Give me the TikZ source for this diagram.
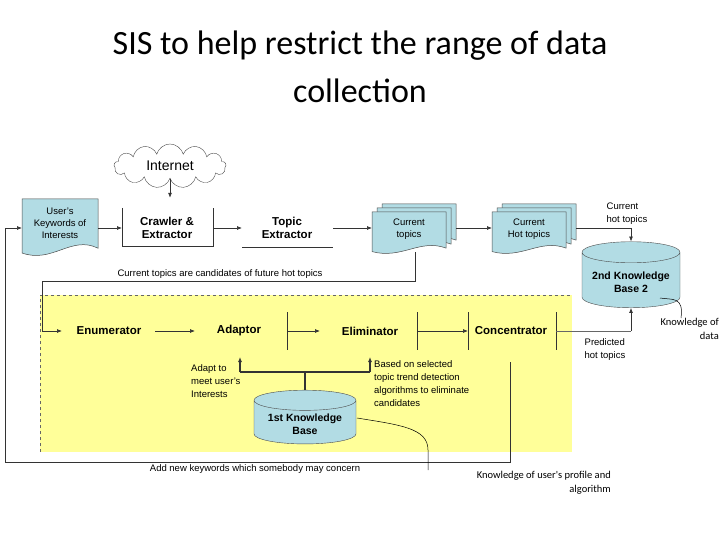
\documentclass[tikz,border=0pt]{standalone}
\usepackage{fontspec}
\setmainfont{Liberation Sans}
\newfontfamily\calfont{Carlito}
\usetikzlibrary{shapes.geometric,shapes.symbols,arrows.meta}
\definecolor{docblue}{HTML}{B2DCE4}
\definecolor{yel}{HTML}{FFFF99}
\newcommand\mydoc[4]{%
  \filldraw[fill=docblue,draw=black!70,line width=0.5pt] (#1,#2) -- (#1+#3,#2) -- (#1+#3,#2+0.82*#4)
   .. controls (#1+0.65*#3,#2+0.6*#4) and (#1+0.4*#3,#2+1.08*#4) .. (#1,#2+0.9*#4) -- cycle;}
\begin{document}
\begin{tikzpicture}[x=1pt,y=-1pt,
  lbl/.style={font=\bfseries\fontsize{11.5}{13}\selectfont,align=center,inner sep=1pt},
  sm/.style={font=\fontsize{9.5}{13}\selectfont,align=left,inner sep=1pt},
  callout/.style={font=\calfont\fontsize{10.5}{14}\selectfont,align=right,inner sep=0pt},
  ln/.style={draw=black!80,line width=0.7pt},
  arr/.style={ln,-{Latex[length=5pt,width=4pt]}},
  cyl/.style={cylinder,shape border rotate=90,aspect=0.25,draw=black!70,fill=docblue,
     font=\bfseries\fontsize{10.5}{12.5}\selectfont,align=center}]
\useasboundingbox (0,0) rectangle (720,540);
% title
\node[font=\calfont\fontsize{34}{48}\selectfont,align=center] (title) at (360,67)
  {SIS to help restrict the range of data\\collection};
% yellow region
\fill[yel] (40,295) rectangle (572,452);
\draw[black!60,dashed,line width=0.5pt] (40,452) -- (40,295) -- (572,295);
% cloud
\node[cloud,cloud puffs=13,aspect=2.6,draw=black!70,fill=white,minimum width=112pt,minimum height=44pt,
  font=\fontsize{14}{16}\selectfont] (net) at (170,166) {Internet};
% keywords doc
\mydoc{22}{199}{76}{60}
\node[font=\fontsize{9.5}{12}\selectfont,align=center] (kw) at (60,223) {User's\\Keywords of\\Interests};
\coordinate (kwl) at (22,228);
% crawler
\draw[ln] (122,208) -- (122,246) -- (213,246) -- (213,208);
\node[lbl] (crawl) at (167,228) {Crawler \&\\Extractor};
\draw[ln] (242,247) -- (333,247);
\node[lbl] (topic) at (287,228) {Topic\\Extractor};
% current topics
\mydoc{382}{204}{74}{44}\mydoc{377}{208}{74}{44}\mydoc{372}{212}{74}{44}
\node[font=\fontsize{9.5}{12}\selectfont,align=center] (ct) at (409,229) {Current\\topics};
\mydoc{502}{204}{74}{44}\mydoc{497}{208}{74}{44}\mydoc{492}{212}{74}{44}
\node[font=\fontsize{9.5}{12}\selectfont,align=center] (cht) at (529,229) {Current\\Hot topics};
% KB2
\node[cyl,minimum width=98pt,minimum height=66pt] (kb2) at (631,282) {2nd Knowledge\\Base 2};
% top arrows
\draw[arr] (net.south) -- ++(0,19);
\draw[arr] (98,228) -- (122,228);
\draw[arr] (213,228) -- (242,228);
\draw[arr] (333,228) -- (372,228);
\draw[arr] (456,228) -- (492,228);
\draw[arr] (576,228) -| (kb2.top);
\node[sm] (chtl) at (627,214) {Current\\hot topics};
% candidates feedback
\draw[arr] (415,252) -- (415,281) -- (42,281) -- (42,331) -- (62,331);
\node[sm] (cand) at (220,274) {Current topics are candidates of future hot topics};
% pipeline
\node[lbl] (en) at (109,331) {Enumerator};
\node[lbl] (ad) at (239,331) {Adaptor};
\node[lbl] (el) at (370,331) {Eliminator};
\node[lbl] (co) at (511,331) {Concentrator};
\draw[ln] (287,312) -- (287,350);
\draw[ln] (417,312) -- (417,350);
\draw[ln] (468,312) -- (468,350);
\draw[ln] (556,312) -- (556,350);
\draw[arr] (155,331) -- (195,331);
\draw[arr] (287,331) -- (320,331);
\draw[arr] (417,331) -- (468,331);
\draw[ln,black!60] (556,331) -- (631,331);
\draw[arr] (631,331) -- (kb2.bottom);
\node[sm] (pred) at (605,350) {Predicted\\hot topics};
% KB1
\node[cyl,minimum width=102pt,minimum height=52pt] (kb1) at (305,424) {1st Knowledge\\Base};
\draw[ln,line width=1.2pt] (kb1.top) -- (305,372);
\draw[arr,line width=1.2pt] (240,372) -- (240,357);
\draw[arr,line width=1.2pt] (370,372) -- (370,357);
\draw[ln,line width=1.2pt] (240,372) -- (370,372);
\node[sm,anchor=north west] (adt) at (190,363) {Adapt to\\meet user's\\Interests};
\node[sm,anchor=north west] (elt) at (373,359) {Based on selected\\topic trend detection\\algorithms to eliminate\\candidates};
% outer feedback
\draw[arr] (510,362) -- (510,462) -- (5,462) -- (5,228) -- (kwl);
\node[sm] (addk) at (255,469) {Add new keywords which somebody may concern};
% callouts
\node[callout,anchor=north east] (c1) at (611,471) {Knowledge of user's profile and\\algorithm};
\draw[black,line width=0.5pt] (357,418) .. controls (400,425) and (428,428) .. (428,450) -- (428,470);
\node[callout,anchor=north east] (c2) at (719,318) {Knowledge of\\data};
\draw[black,line width=0.5pt] (660,298) .. controls (672,300) and (684,296) .. (681,318);
\end{tikzpicture}
\end{document}
